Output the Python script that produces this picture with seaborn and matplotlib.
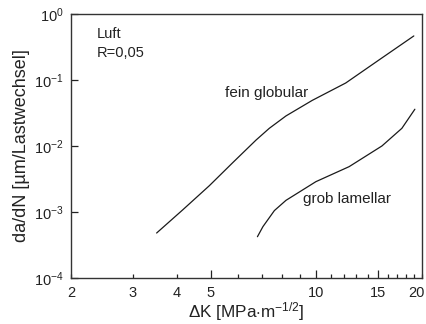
import pandas as pd
import matplotlib.pyplot as plt
import matplotlib.ticker as mticker
import matplotlib.transforms as mtransforms
import seaborn as sns

# crack growth curves
dk_fein = [3.51, 4.16, 4.96, 5.77, 6.74, 7.35, 8.20, 9.74, 12.14, 15.1, 18.97]
dadn_fein = [4.8e-4, 1.07e-3, 2.5e-3, 5.52e-3, 1.23e-2, 1.85e-2, 2.85e-2, 4.9e-2, 9.0e-2, 0.201, 0.464]

dk_grob = [6.80, 7.05, 7.60, 8.20, 9.98, 12.41, 15.39, 17.54, 19.10]
dadn_grob = [4.22e-4, 6.0e-4, 1.05e-3, 1.5e-3, 2.88e-3, 4.86e-3, 1.0e-2, 1.85e-2, 3.6e-2]

x_major = [5, 10, 15]
x_minor = [2, 3, 4, 6, 7, 8, 9, 11, 12, 13, 14, 16, 17, 18, 19, 20]
x_minor_labels = {2: '2', 3: '3', 4: '4', 20: '20'}
y_ticks = [1e-4, 1e-3, 1e-2, 1e-1, 1e0]

df = pd.concat([
    pd.DataFrame({'dK': dk_fein, 'dadN': dadn_fein, 'Gefuege': 'fein globular'}),
    pd.DataFrame({'dK': dk_grob, 'dadN': dadn_grob, 'Gefuege': 'grob lamellar'}),
])

sns.set_style('ticks')
plt.rcParams['font.family'] = ['Liberation Sans', 'DejaVu Sans']
plt.rcParams['mathtext.fontset'] = 'custom'
plt.rcParams['mathtext.rm'] = 'Liberation Sans'
plt.rcParams['mathtext.it'] = 'Liberation Sans:italic'

fig = plt.figure(figsize=(4.27, 3.24), dpi=100)
ax = fig.add_axes([0.166, 0.142, 0.822, 0.815])

for name, grp in df.groupby('Gefuege'):
    sns.lineplot(data=grp, x='dK', y='dadN', color='#1a1a1a', lw=0.9,
                 sort=False, estimator=None, ax=ax, legend=False,
                 solid_joinstyle='round')

ax.set_xscale('log')
ax.set_yscale('log')
ax.set_xlim(2, 20)
ax.set_ylim(1e-4, 1e0)

ax.xaxis.set_major_locator(mticker.FixedLocator(x_major))
ax.xaxis.set_major_formatter(mticker.FixedFormatter([str(v) for v in x_major]))
ax.xaxis.set_minor_locator(mticker.FixedLocator(x_minor))
ax.xaxis.set_minor_formatter(mticker.FixedFormatter([x_minor_labels.get(v, '') for v in x_minor]))
ax.yaxis.set_major_locator(mticker.FixedLocator(y_ticks))
ax.yaxis.set_major_formatter(mticker.FixedFormatter(
    [r'$\mathregular{10^{%d}}$' % e for e in [-4, -3, -2, -1, 0]]))
ax.yaxis.set_minor_locator(mticker.NullLocator())

ax.tick_params(axis='x', which='major', direction='in', length=6, width=0.9,
               labelsize=10.5, pad=6, colors='#222222')
ax.tick_params(axis='x', which='minor', direction='in', length=3, width=0.9,
               labelsize=10.5, pad=6, colors='#222222')
ax.tick_params(axis='y', which='major', direction='in', length=5, width=0.9,
               labelsize=10.5, pad=5, colors='#222222')

# last label sits on the figure edge, pull it in a bit
fig.canvas.draw()
for lbl in ax.xaxis.get_minorticklabels():
    if lbl.get_text() == '20':
        lbl.set_transform(lbl.get_transform() +
                          mtransforms.ScaledTranslation(-4 / 72, 0, fig.dpi_scale_trans))

for sp in ax.spines.values():
    sp.set_color('#333333')
    sp.set_linewidth(1.0)

ax.set_xlabel(r'$\Delta$K [MPa$\cdot$m$^{-1/2}$]', fontsize=12.3, labelpad=0, color='#222222')
ax.set_ylabel('da/dN [µm/Lastwechsel]', fontsize=13, labelpad=3, color='#222222')

ax.text(0.075, 0.925, 'Luft', transform=ax.transAxes, fontsize=10.5, va='center', color='#222222')
ax.text(0.075, 0.853, 'R=0,05', transform=ax.transAxes, fontsize=10.5, va='center', color='#222222')
ax.text(0.44, 0.70, 'fein globular', transform=ax.transAxes, fontsize=11, va='center', color='#222222')
ax.text(0.66, 0.30, 'grob lamellar', transform=ax.transAxes, fontsize=11, va='center', color='#222222')

fig.savefig('out.png', dpi=100)
